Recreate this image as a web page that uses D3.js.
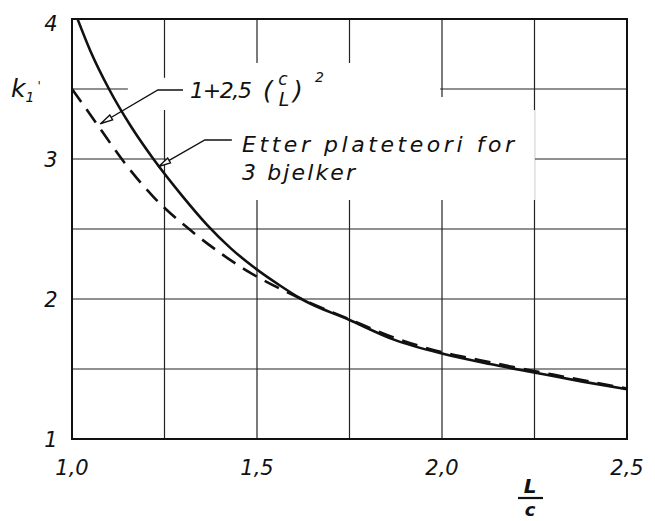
<!DOCTYPE html>
<html>
<head>
<meta charset="utf-8">
<script src="https://cdn.jsdelivr.net/npm/d3@7"></script>
<style>
  body { margin: 0; background: #fff; }
  text { font-family: "DejaVu Sans", sans-serif; font-style: italic; fill: #111; }
</style>
</head>
<body>
<svg id="chart"></svg>
<script>
// values (x = L/c, y = k1)
const platePts_x = [1.015, 1.05, 1.10, 1.16, 1.22, 1.30, 1.365, 1.43, 1.49, 1.56, 1.62, 1.75, 1.87, 2.0, 2.13, 2.26, 2.38, 2.5]
const platePts_k = [4.0, 3.77, 3.5, 3.23, 3.0, 2.73, 2.53, 2.36, 2.23, 2.1, 2.0, 1.85, 1.71, 1.61, 1.535, 1.47, 1.41, 1.355]
const formelPts_x = [1.0, 1.07, 1.14, 1.22, 1.33, 1.40, 1.48, 1.55, 1.62, 1.75, 1.87, 2.0, 2.1, 2.2, 2.3, 2.4, 2.5]
const formelPts_k = [3.5, 3.24, 2.98, 2.73, 2.47, 2.33, 2.19, 2.09, 2.0, 1.855, 1.725, 1.62, 1.565, 1.51, 1.46, 1.41, 1.36]

const xTicks = [1.0, 1.5, 2.0, 2.5]
const xTickLabels = ["1,0", "1,5", "2,0", "2,5"]
const xGrid = [1.0, 1.25, 1.5, 1.75, 2.0, 2.25, 2.5]
const yTicks = [1, 2, 3, 4]
const yGrid = [1, 1.5, 2, 2.5, 3, 3.5, 4]

const W = 655, H = 521
const margin = {left: 72, top: 19, right: 28, bottom: 82}

const svg = d3.select("#chart").attr("width", W).attr("height", H)
svg.append("rect").attr("width", W).attr("height", H).attr("fill", "#fff")

const x = d3.scaleLinear().domain([1.0, 2.5]).range([margin.left, W - margin.right])
const y = d3.scaleLinear().domain([1, 4]).range([H - margin.bottom, margin.top])

// grid
svg.append("g").selectAll("line").data(xGrid).join("line")
    .attr("x1", d => x(d)).attr("x2", d => x(d))
    .attr("y1", y(1)).attr("y2", y(4))
    .attr("stroke", "#222").attr("stroke-width", 1.2)
svg.append("g").selectAll("line").data(yGrid).join("line")
    .attr("x1", x(1)).attr("x2", x(2.5))
    .attr("y1", d => y(d)).attr("y2", d => y(d))
    .attr("stroke", "#222").attr("stroke-width", 1.2)

// gaps in the grid where the labels sit (data coords)
const gaps = [
    {x0: 1.151, x1: 1.738, k0: 3.35, k1: 3.58},
    {x0: 1.481, x1: 1.995, k0: 2.707, k1: 3.686},
    {x0: 1.832, x1: 2.211, k0: 2.707, k1: 3.443},
    {x0: 1.254, x1: 2.251, k0: 2.707, k1: 3.35}
]
svg.append("g").selectAll("rect").data(gaps).join("rect")
    .attr("x", d => x(d.x0)).attr("width", d => x(d.x1) - x(d.x0))
    .attr("y", d => y(d.k1)).attr("height", d => y(d.k0) - y(d.k1))
    .attr("fill", "#fff")

// frame
svg.append("rect")
    .attr("x", x(1)).attr("y", y(4))
    .attr("width", x(2.5) - x(1)).attr("height", y(1) - y(4))
    .attr("fill", "none").attr("stroke", "#111").attr("stroke-width", 2)

// curves
const line = d3.line().x(d => x(d[0])).y(d => y(d[1])).curve(d3.curveMonotoneX)
const plate = d3.zip(platePts_x, platePts_k)
const formel = d3.zip(formelPts_x, formelPts_k)

svg.append("path").datum(formel).attr("d", line)
    .attr("fill", "none").attr("stroke", "#111").attr("stroke-width", 2.6)
    .attr("stroke-dasharray", "16,9")
svg.append("path").datum(plate).attr("d", line)
    .attr("fill", "none").attr("stroke", "#111").attr("stroke-width", 2.6)

// tick labels
svg.append("g").selectAll("text").data(yTicks).join("text")
    .attr("x", 51).attr("y", d => y(d) + (d === 4 ? 5 : 1))
    .attr("text-anchor", "middle").attr("dominant-baseline", "central")
    .style("font-size", "21px")
    .text(d => d)
svg.append("g").selectAll("text").data(xTicks).join("text")
    .attr("x", d => x(d)).attr("y", 475)
    .attr("text-anchor", "middle")
    .style("font-size", "21px")
    .text((d, i) => xTickLabels[i])

// axis titles
const kLab = svg.append("text").attr("x", 11).attr("y", 97).style("font-size", "25px")
kLab.append("tspan").text("k")
kLab.append("tspan").attr("dy", 5).style("font-size", "14px").text("1")
kLab.append("tspan").attr("dy", -12).attr("dx", 3).style("font-size", "12px").text("'")

svg.append("text").attr("x", 530).attr("y", 493).attr("text-anchor", "middle")
    .style("font-size", "20px").style("font-weight", "bold").text("L")
svg.append("line").attr("x1", 518).attr("x2", 543).attr("y1", 498).attr("y2", 498)
    .attr("stroke", "#111").attr("stroke-width", 2.2)
svg.append("text").attr("x", 530).attr("y", 516).attr("text-anchor", "middle")
    .style("font-size", "18px").style("font-weight", "bold").text("c")

// annotations
svg.append("defs").append("marker")
    .attr("id", "arr").attr("viewBox", "0 0 14 8").attr("refX", 14).attr("refY", 4)
    .attr("markerWidth", 14).attr("markerHeight", 8).attr("markerUnits", "userSpaceOnUse")
    .attr("orient", "auto")
    .append("path").attr("d", "M1,1.2 L13,4 L1,6.8 Z")
    .attr("fill", "#fff").attr("stroke", "#111").attr("stroke-width", 1.4)

const leaders = [
    [[1.30, 3.493], [1.232, 3.493], [1.0757, 3.25]],
    [[1.432, 3.136], [1.359, 3.136], [1.232, 2.943]]
]
svg.append("g").selectAll("path").data(leaders).join("path")
    .attr("d", d3.line().x(d => x(d[0])).y(d => y(d[1])))
    .attr("fill", "none").attr("stroke", "#111").attr("stroke-width", 1.4)
    .attr("marker-end", "url(#arr)")

const f = svg.append("g")
f.append("text").attr("x", 190).attr("y", 98).style("font-size", "22px")
    .attr("textLength", 62).attr("lengthAdjust", "spacing").text("1+2,5")
f.append("text").attr("x", 263).attr("y", 99).style("font-size", "25px").text("(")
f.append("text").attr("x", 283).attr("y", 85).attr("text-anchor", "middle").style("font-size", "17px").text("c")
f.append("text").attr("x", 284).attr("y", 106).attr("text-anchor", "middle").style("font-size", "19px").text("L")
f.append("text").attr("x", 293).attr("y", 99).style("font-size", "25px").text(")")
f.append("text").attr("x", 315).attr("y", 82).style("font-size", "14px").text("2")

svg.append("text").attr("x", 242).attr("y", 152).style("font-size", "22px")
    .attr("textLength", 272).attr("lengthAdjust", "spacing").text("Etter plateteori for")
svg.append("text").attr("x", 242).attr("y", 180).style("font-size", "22px")
    .attr("textLength", 113).attr("lengthAdjust", "spacing").text("3 bjelker")
</script>
</body>
</html>
